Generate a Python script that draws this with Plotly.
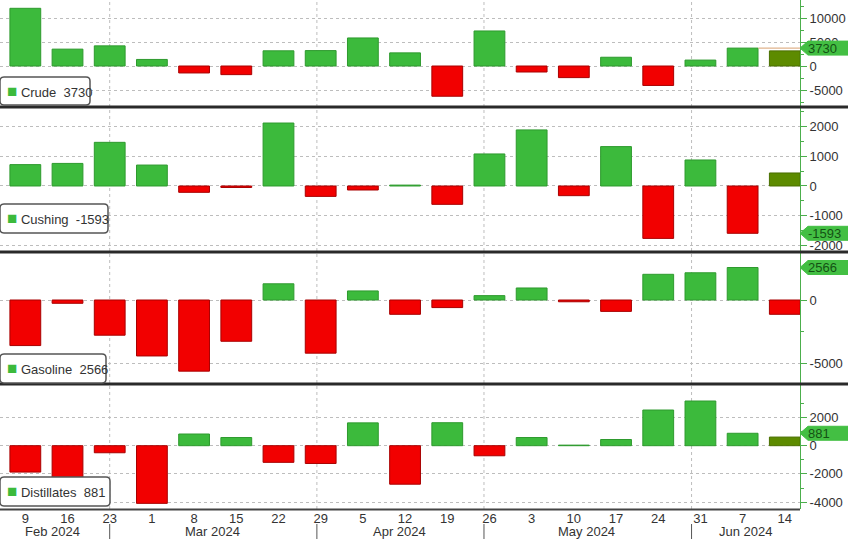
import plotly.graph_objects as go
from plotly.subplots import make_subplots

# ---------------- data ----------------
weeks = ["9", "16", "23", "1", "8", "15", "22", "29", "5", "12",
         "19", "26", "3", "10", "17", "24", "31", "7", "14"]
months = ["Feb 2024", "Mar 2024", "Apr 2024", "May 2024", "Jun 2024"]
month_label_pos = [0.65, 4.44, 8.87, 13.3, 17.07]
month_bounds = [2.0, 6.91, 10.87, 15.79]

crude = [12018, 3514, 4199, 1367, -1450, -1800, 3165, 3210, 5841, 2735,
         -6300, 7300, -1250, -2420, 1825, -4050, 1233, 3730, 3150]
cushing = [720, 760, 1470, 705, -213, -50, 2120, -350, -135, 30,
           -618, 1079, 1888, -326, 1326, -1764, 876, -1593, 438]
gasoline = [-3600, -260, -2780, -4420, -5620, -3260, 1280, -4200, 715, -1130,
            -600, 344, 950, -140, -900, 2030, 2150, 2566, -1130]
distillates = [-1870, -2340, -500, -4090, 830, 580, -1180, -1260, 1620, -2730,
               1630, -715, 580, 40, 440, 2530, 3170, 881, 612]

names = ["Crude", "Cushing", "Gasoline", "Distillates"]
series = [crude, cushing, gasoline, distillates]
latest = ["3730", "-1593", "2566", "881"]
latest_val = [3730, -1593, 2566, 881]

# ---------------- layout geometry (pixels) ----------------
W_PLOT, H_PLOT = 800, 509
panels_px = [(0, 106), (108, 251), (253, 383), (385, 509)]
ranges = [[-8333, 13750], [-2189, 2626], [-6556, 3712], [-4489, 4305]]
major = [[-5000, 0, 5000, 10000], [-2000, -1000, 0, 1000, 2000], [-5000, 0], [-4000, -2000, 0, 2000]]
minor = [[-7500, -2500, 2500, 7500, 12500], [-1500, -500, 500, 1500, 2500],
         [-2500, 2500, -7500], [-3000, -1000, 1000, 3000]]
legend_boxes = [(0, 77, 90, 105), (0, 204, 108, 233), (0, 354, 106, 383), (0, 477, 110, 506)]


def py(p):
    return (H_PLOT - p) / H_PLOT


def pxx(p):
    return p / W_PLOT


GREEN = "#3cba3c"
GREEN_EDGE = "#2e9a2e"
RED = "#f20000"
RED_EDGE = "#a80000"
OLIVE = "#5d8b00"
OLIVE_EDGE = "#4a6f00"
AXIS_GREEN = "#4cae4c"

fig = make_subplots(rows=4, cols=1, shared_xaxes=True, vertical_spacing=0.0)

xs = list(range(len(weeks)))
for i, vals in enumerate(series):
    colors, edges = [], []
    for j, v in enumerate(vals):
        if j == len(vals) - 1 and v >= 0:
            colors.append(OLIVE); edges.append(OLIVE_EDGE)
        elif v >= 0:
            colors.append(GREEN); edges.append(GREEN_EDGE)
        else:
            colors.append(RED); edges.append(RED_EDGE)
    fig.add_trace(go.Bar(x=xs, y=vals, width=0.73,
                         marker=dict(color=colors, line=dict(color=edges, width=1)),
                         showlegend=False, hoverinfo="skip"), row=i + 1, col=1)

layout = dict(
    width=848, height=539,
    margin=dict(l=0, r=48, t=0, b=30, autoexpand=False),
    paper_bgcolor="white", plot_bgcolor="white",
    bargap=0.27, showlegend=False,
    font=dict(family="Liberation Sans, Arial, sans-serif", size=13, color="#333333"),
)
fig.update_layout(**layout)

for i in range(4):
    top, bot = panels_px[i]
    yname = "yaxis" if i == 0 else f"yaxis{i + 1}"
    fig.layout[yname].update(
        domain=[py(bot), py(top)], range=ranges[i], side="right",
        tickmode="array", tickvals=major[i], ticktext=[str(t) for t in major[i]],
        showgrid=True, gridcolor="#bdbdbd", griddash="dot", gridwidth=1,
        zeroline=False, showline=True, linecolor=AXIS_GREEN, linewidth=1,
        ticks="outside", ticklen=6, tickcolor=AXIS_GREEN,
        tickfont=dict(size=13, color="#333333"), automargin=False,
        minor=dict(tickmode="array", tickvals=minor[i], ticks="outside", ticklen=3,
                   tickcolor=AXIS_GREEN, showgrid=False),
        fixedrange=True,
    )
    xname = "xaxis" if i == 0 else f"xaxis{i + 1}"
    fig.layout[xname].update(range=[-0.6, 18.36], showgrid=False, zeroline=False,
                             showline=False, fixedrange=True)

fig.layout["xaxis4"].update(tickmode="array", tickvals=xs, ticktext=weeks, automargin=False,
                            ticks="", tickfont=dict(size=13, color="#333333"))

shapes = []
# vertical month gridlines
for b in month_bounds:
    shapes.append(dict(type="line", xref="x", yref="paper", x0=b, x1=b, y0=0, y1=1,
                       line=dict(color="#bdbdbd", width=1, dash="dot"), layer="below"))
    shapes.append(dict(type="line", xref="x", yref="paper", x0=b, x1=b,
                       y0=py(524), y1=py(539), line=dict(color="#555555", width=1)))

# separators
for p in [107, 252, 384]:
    shapes.append(dict(type="line", xref="paper", yref="paper", x0=0, x1=848 / W_PLOT,
                       y0=py(p), y1=py(p), line=dict(color="#2a2a2a", width=3), layer="above"))
shapes.append(dict(type="line", xref="paper", yref="paper", x0=0, x1=1,
                   y0=py(509.5), y1=py(509.5), line=dict(color="#444444", width=2), layer="above"))

# last-value line in crude panel
shapes.append(dict(type="line", xref="x", yref="y", x0=17.37, x1=18.36, y0=3730, y1=3730,
                   line=dict(color="#d8a070", width=1)))

annotations = []
# badges on right axis
for i in range(4):
    top, bot = panels_px[i]
    r0, r1 = ranges[i]
    upp = (r1 - r0) / (bot - top)
    v = latest_val[i]
    h = 7 * upp
    x0 = 1.0
    xt = pxx(808)
    x1 = pxx(848)
    yref = "y" if i == 0 else f"y{i + 1}"
    path = f"M {x0},{v} L {xt},{v + h} L {x1},{v + h} L {x1},{v - h} L {xt},{v - h} Z"
    shapes.append(dict(type="path", xref="paper", yref=yref, path=path,
                       fillcolor="#43bf43", line=dict(color="#43bf43", width=1), layer="above"))
    annotations.append(dict(xref="paper", yref=yref, x=pxx(806), y=v, xanchor="left",
                            yanchor="middle", text=latest[i], showarrow=False,
                            font=dict(size=13, color="#145214")))

# legend boxes
for i in range(4):
    x0, y0, x1, y1 = legend_boxes[i]
    r = 4
    X0, X1 = pxx(x0), pxx(x1)
    Y0, Y1 = py(y0), py(y1)
    rx, ry = pxx(r), r / H_PLOT
    path = (f"M {X0 + rx},{Y0} L {X1 - rx},{Y0} Q {X1},{Y0} {X1},{Y0 - ry} "
            f"L {X1},{Y1 + ry} Q {X1},{Y1} {X1 - rx},{Y1} L {X0 + rx},{Y1} "
            f"Q {X0},{Y1} {X0},{Y1 + ry} L {X0},{Y0 - ry} Q {X0},{Y0} {X0 + rx},{Y0} Z")
    shapes.append(dict(type="path", xref="paper", yref="paper", path=path,
                       fillcolor="white", line=dict(color="#555555", width=1.5), layer="above"))
    annotations.append(dict(xref="paper", yref="paper", x=pxx(x0 + 5), y=py((y0 + y1) / 2),
                            xanchor="left", yanchor="middle", showarrow=False,
                            text=f"<span style='color:{GREEN};font-size:17px'>■</span> {names[i]}  {latest[i]}",
                            font=dict(size=13, color="#333333")))

# month labels
for m, pos in zip(months, month_label_pos):
    annotations.append(dict(xref="x", yref="paper", x=pos, y=py(531), xanchor="center",
                            yanchor="middle", text=m, showarrow=False,
                            font=dict(size=13, color="#333333")))

fig.update_layout(shapes=shapes, annotations=annotations)
fig.write_html("out.html", config={"displayModeBar": False},
               post_script="document.body.style.margin='0';document.body.style.padding='0';document.body.style.overflow='hidden';")
